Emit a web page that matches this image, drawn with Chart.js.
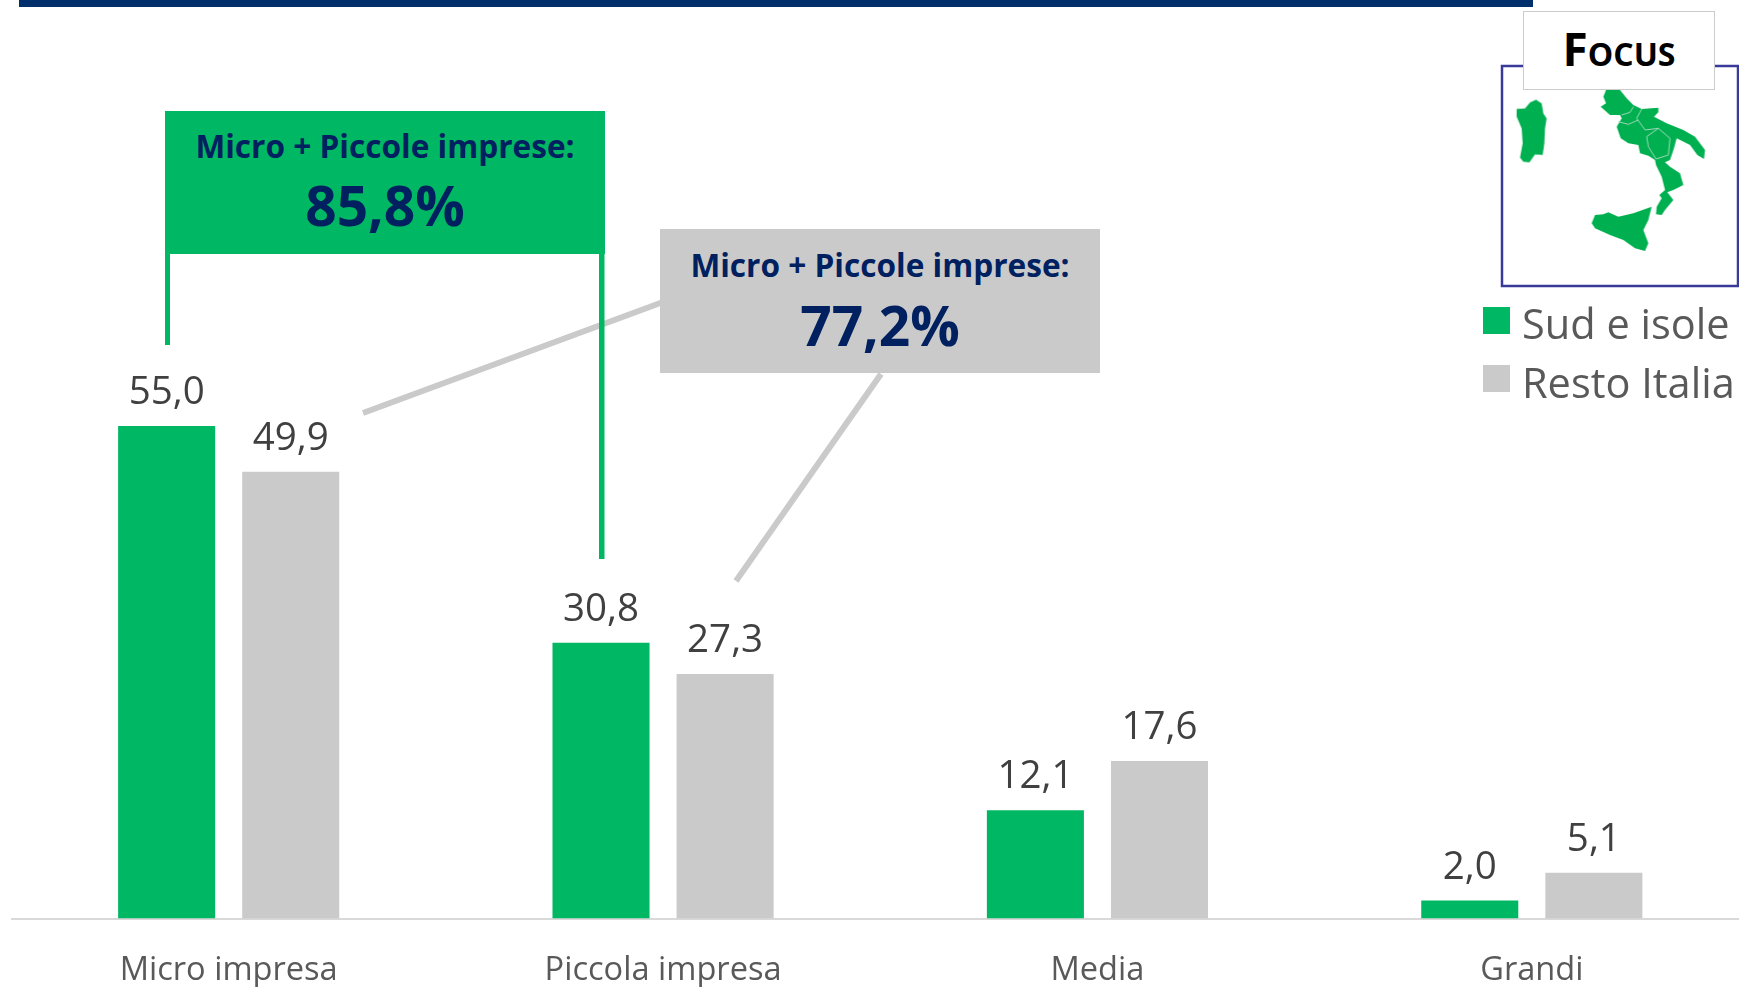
<!DOCTYPE html>
<html lang="it">
<head>
<meta charset="utf-8">
<title>Focus Sud e isole</title>
<script src="https://cdn.jsdelivr.net/npm/chart.js@4"></script>
<style>
    html, body { margin: 0; padding: 0; background: #fff; overflow: hidden; }
    #stage { position: relative; width: 1739px; height: 987px; overflow: hidden; font-family: "Open Sans", sans-serif; }
    #barChart { position: absolute; left: 0; top: 0; }
    #overlay { position: absolute; left: 0; top: 0; }
    .box { position: absolute; text-align: center; color: #002060; font-weight: 700; }
    .box .t { position: absolute; left: 0; right: 0; font-size: 31.6px; line-height: 40px; white-space: nowrap; }
    .box .v { position: absolute; left: 0; right: 0; font-size: 55px; line-height: 70px; white-space: nowrap; }
    #focus { position: absolute; left: 1523px; top: 11px; width: 190px; height: 77px; background: #fff; border: 1px solid #ccc;
        text-align: center; font-weight: 700; font-size: 46px; line-height: 73px; color: #000; font-variant: small-caps; }
    .leg { position: absolute; left: 1522px; font-size: 41.5px; line-height: 50px; color: #595959; white-space: nowrap; }
    .sw { position: absolute; left: 1483px; width: 27px; height: 27px; }
</style>
</head>
<body>
<div id="stage">
    <canvas id="barChart" width="1760" height="987"></canvas>
    <svg id="overlay" width="1739" height="987" viewBox="0 0 1739 987">
        <rect x="19" y="0" width="1514" height="7" fill="#002F6C"/>
        <line x1="363" y1="413" x2="663" y2="302" stroke="#CACACA" stroke-width="6"/>
        <line x1="881" y1="374" x2="736" y2="581" stroke="#CACACA" stroke-width="6"/>
        <rect x="165" y="213" width="5" height="132" fill="#00B863"/>
        <rect x="599" y="213" width="5.5" height="346" fill="#00B863"/>
        <rect x="1502" y="66" width="236" height="220" fill="none" stroke="#3A3A9A" stroke-width="2.5"/>
        <g style="filter:blur(0.5px)">
            <path fill="#00B050" transform="translate(1500 85) scale(0.3333)"
                d="M50 72L75 70L90 52L108 44L125 55L130 85L140 100L135 130L133 175L128 210L105 208L88 232L70 230L60 218L68 175L65 130L50 95Z"/>
            <g transform="translate(1580 85) scale(0.3333)">
                <path fill="#00B050" d="M78 15L120 15L140 40L160 60L185 72L235 68L235 82L222 95L260 115L310 135L345 155L375 195L372 222L352 210L330 180L290 160L282 190L270 225L255 232L270 245L300 265L310 300L280 315L262 322L280 345L255 375L245 390L228 388L230 365L245 340L238 330L255 315L245 275L228 240L225 225L205 212L180 205L175 180L145 175L122 160L110 125L125 100L120 90L90 90L62 65L78 55L70 35Z"/>
                <path fill="#00B050" d="M35 415L45 390L70 388L85 382L115 395L160 385L215 365L205 405L190 435L205 475L195 498L165 490L130 465L90 450L45 430Z"/>
                <path fill="none" stroke="#9fd8b8" stroke-width="3" d="M125 90L150 82L160 65M185 72L170 100L195 135L235 130L270 160L265 210L228 222L205 185L200 155L235 130M115 110L145 118L175 105"/>
            </g>
        </g>
    </svg>
    <div class="box" style="left:165px;top:111px;width:440px;height:143px;background:#00B863">
        <div class="t" style="top:15px">Micro + Piccole imprese:</div>
        <div class="v" style="top:59px">85,8%</div>
    </div>
    <div class="box" style="left:660px;top:229px;width:440px;height:144px;background:#CACACA">
        <div class="t" style="top:16px">Micro + Piccole imprese:</div>
        <div class="v" style="top:61px">77,2%</div>
    </div>
    <div id="focus">Focus</div>
    <div id="legend"></div>
</div>
<script>
const categories = ['Micro impresa', 'Piccola impresa', 'Media', 'Grandi'];
const sudIsole = [55.0, 30.8, 12.1, 2.0];
const restoItalia = [49.9, 27.3, 17.6, 5.1];

const VERDE = '#00B863';
const GRIGIO = '#CACACA';

// Etichette sopra le barre, con la virgola decimale
const valueLabels = {
    id: 'valueLabels',
    afterDatasetsDraw(chart) {
        const ctx = chart.ctx;
        ctx.save();
        ctx.font = '38.5px "Open Sans"';
        ctx.fillStyle = '#404040';
        ctx.textAlign = 'center';
        ctx.textBaseline = 'middle';
        chart.data.datasets.forEach((ds, i) => {
            chart.getDatasetMeta(i).data.forEach((bar, j) => {
                ctx.fillText(ds.data[j].toFixed(1).replace('.', ','), bar.x, bar.y - 33);
            });
        });
        ctx.restore();
    }
};

const chart = new Chart(document.getElementById('barChart'), {
    type: 'bar',
    data: {
        labels: categories,
        datasets: [
            { label: 'Sud e isole', data: sudIsole, backgroundColor: VERDE },
            { label: 'Resto Italia', data: restoItalia, backgroundColor: GRIGIO }
        ]
    },
    options: {
        responsive: false,
        animation: false,
        categoryPercentage: 0.5714,
        barPercentage: 0.782,
        layout: { padding: { left: 11.5, right: 11, top: 23, bottom: 0 } },
        plugins: {
            legend: { display: false },
            tooltip: { enabled: false }
        },
        scales: {
            x: {
                afterFit(scale) { scale.height = 68.5; },
                grid: { display: false, drawTicks: false },
                border: { color: '#D9D9D9', width: 2 },
                ticks: {
                    color: '#595959',
                    padding: 33,
                    maxRotation: 0,
                    font: { family: '"Open Sans"', size: 32.6 }
                }
            },
            y: { display: false, min: 0, max: 100 }
        }
    },
    plugins: [valueLabels]
});

// Legenda in HTML, in alto a destra
const legend = document.getElementById('legend');
chart.data.datasets.forEach((ds, i) => {
    const top = 307 + i * 58;
    legend.insertAdjacentHTML('beforeend',
        '<div class="sw" style="top:' + top + 'px;background:' + ds.backgroundColor + '"></div>' +
        '<div class="leg" style="top:' + (top - 9 + i) + 'px">' + ds.label + '</div>');
});
</script>
</body>
</html>
